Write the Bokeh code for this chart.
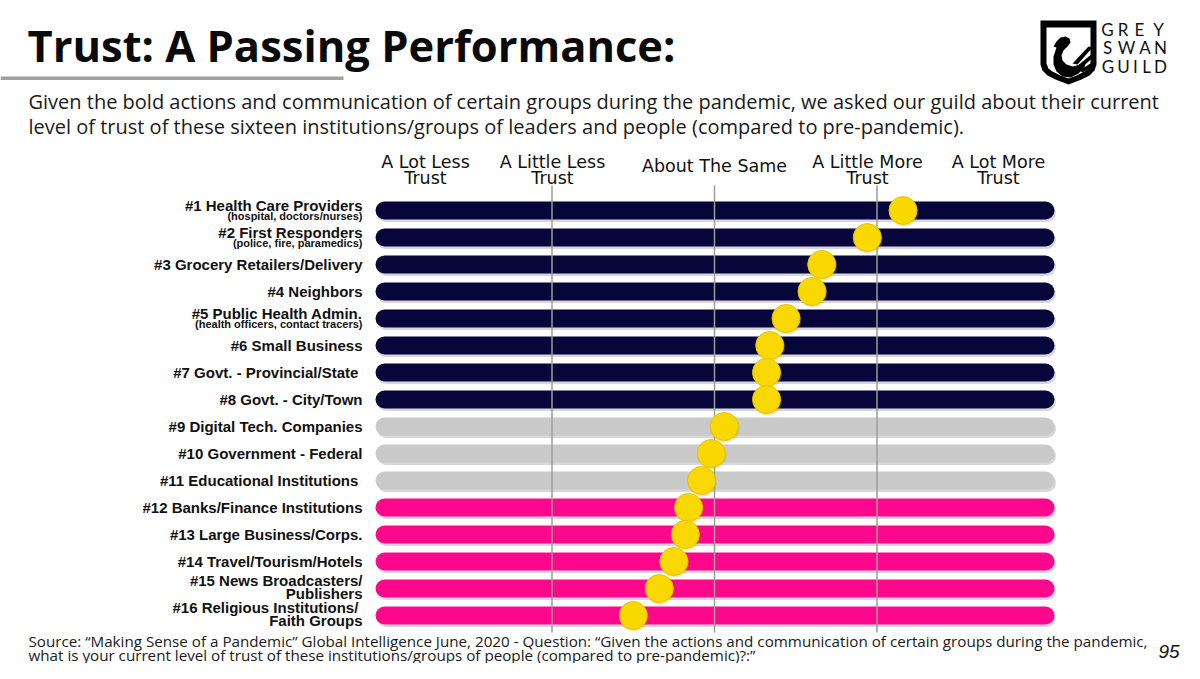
from bokeh.plotting import figure
from bokeh.models import Range1d, Label, BoxAnnotation, PolyAnnotation, ColumnDataSource
from bokeh.transform import dodge
from bokeh.core.properties import value
from bokeh.embed import file_html
from bokeh.resources import INLINE

# ---------------- data ----------------
RANKS = list(range(1, 17))
LABELS = [
    "#1 Health Care Providers",
    "#2 First Responders",
    "#3 Grocery Retailers/Delivery",
    "#4 Neighbors",
    "#5 Public Health Admin.",
    "#6 Small Business",
    "#7 Govt. -  Provincial/State",
    "#8 Govt. - City/Town",
    "#9 Digital Tech. Companies",
    "#10 Government - Federal",
    "#11  Educational Institutions",
    "#12 Banks/Finance Institutions",
    "#13 Large Business/Corps.",
    "#14 Travel/Tourism/Hotels",
    "#15 News Broadcasters/\nPublishers",
    "#16  Religious Institutions/\nFaith Groups",
]
NOTES = [
    "(hospital, doctors/nurses)",
    "(police, fire, paramedics)",
    "", "",
    "(health officers, contact tracers)",
    "", "", "", "", "", "", "", "", "", "", "",
]
GROUPS = ["more"] * 8 + ["same"] * 3 + ["less"] * 5
TRUST = [4.16, 3.94, 3.66, 3.60, 3.44, 3.34, 3.32, 3.32,
         3.06, 2.98, 2.92, 2.84, 2.82, 2.75, 2.66, 2.50]
TICK_VALUES = [1, 2, 3, 4, 5]
TICK_LABELS = ["A Lot Less\nTrust", "A Little Less\nTrust", "About The Same",
               "A Little More\nTrust", "A Lot More\nTrust"]
GRID_VALUES = [2, 3, 4]

TITLE = "Trust: A Passing Performance:"
SUBTITLE = [
    "Given the bold actions and communication of certain groups during the pandemic, we asked our guild about their current",
    "level of trust of these sixteen institutions/groups of leaders and people (compared to pre-pandemic).",
]
SOURCE = [
    "Source: \u201cMaking Sense of a Pandemic\u201d Global Intelligence June, 2020 - Question: \u201cGiven the actions and communication of certain groups during the pandemic,",
    "what is your current level of trust of these institutions/groups of people (compared to pre-pandemic)?:\u201d",
]
PAGE_NO = "95"

# ---------------- styles / layout ----------------
GROUP_COLORS = {"more": "#07053a", "same": "#c9c9c9", "less": "#fd088c"}
YELLOW = "#f9d800"
W, H = 1184, 663
PX_PER_UNIT = 162.5
MID_PX = 714.0
ROW1_PX = 210.0
ROW_STEP = 27.0


def xv(px):
    return 3 + (px - MID_PX) / PX_PER_UNIT


def yr(py):
    return 1 + (py - ROW1_PX) / ROW_STEP


p = figure(width=W, height=H,
           x_range=Range1d(xv(0), xv(W)),
           y_range=Range1d(yr(H), yr(0)),
           x_axis_type=None, y_axis_type=None,
           output_backend="svg", toolbar_location=None,
           min_border=0, outline_line_color=None)
p.grid.visible = False
p.background_fill_color = "white"
p.border_fill_color = "white"

src = ColumnDataSource(dict(rank=RANKS, trust=TRUST,
                            color=[GROUP_COLORS[g] for g in GROUPS]))

BAR_W = 18
bx0, bx1 = xv(375 + BAR_W / 2), xv(1054 - BAR_W / 2)

# shadow
p.segment(x0=bx0 + 1.5 / PX_PER_UNIT, x1=bx1 + 1.5 / PX_PER_UNIT,
          y0=dodge("rank", 2.5 / ROW_STEP), y1=dodge("rank", 2.5 / ROW_STEP),
          line_color="#8a8a9a", line_alpha=0.35, line_width=BAR_W,
          line_cap="round", source=src)
# bars
p.segment(x0=bx0, x1=bx1, y0="rank", y1="rank", line_color="color",
          line_width=BAR_W, line_cap="round", source=src)

# vertical reference lines
p.segment(x0=GRID_VALUES, x1=GRID_VALUES, y0=[yr(185)] * len(GRID_VALUES),
          y1=[yr(632)] * len(GRID_VALUES), line_color="#9c9c9c", line_width=1.5)

# dots
p.scatter(x=dodge("trust", 0.8 / PX_PER_UNIT), y=dodge("rank", 1.5 / ROW_STEP),
          size=29, fill_color="#b8a000", fill_alpha=0.25, line_color=None, source=src)
p.scatter(x="trust", y="rank", size=28, fill_color=YELLOW, line_color="#e6c300",
          line_width=1, source=src)

# row labels
main_rank, main_text, main_off = [], [], []
note_rank, note_text, note_off = [], [], []
for r, lab, note in zip(RANKS, LABELS, NOTES):
    parts = lab.split("\n")
    if len(parts) == 2:
        main_rank += [r, r]; main_text += parts; main_off += [-8.5, 4.5]
    elif note:
        main_rank.append(r); main_text.append(parts[0]); main_off.append(-5.5)
        note_rank.append(r); note_text.append(note); note_off.append(5.5)
    else:
        main_rank.append(r); main_text.append(parts[0]); main_off.append(-0.5)

LX = xv(362)
p.text(x=LX, y="rank", text="text", y_offset="off",
       source=ColumnDataSource(dict(rank=main_rank, text=main_text, off=main_off)),
       text_align="right", text_baseline="middle",
       text_font=value("Liberation Sans"), text_font_style="bold",
       text_font_size="15px", text_color="#111111")
p.text(x=LX, y="rank", text="text", y_offset="off",
       source=ColumnDataSource(dict(rank=note_rank, text=note_text, off=note_off)),
       text_align="right", text_baseline="middle",
       text_font=value("Liberation Sans"), text_font_style="bold",
       text_font_size="11px", text_color="#111111")

# column headers
HEADER_X_PX = [425, 552, 714, 867, 998]
for hx, lab in zip(HEADER_X_PX, TICK_LABELS):
    parts = lab.split("\n")
    ys = [161, 177] if len(parts) == 2 else [165]
    for t, py in zip(parts, ys):
        p.add_layout(Label(x=xv(hx), y=yr(py), text=t, text_align="center",
                           text_baseline="middle", text_font="DejaVu Sans",
                           text_font_size="17.5px", text_color="#111111"))

# title, rule, subtitle
p.add_layout(Label(x=xv(27), y=yr(45), text=TITLE, text_align="left",
                   text_baseline="middle", text_font="Open Sans",
                   text_font_style="bold", text_font_size="43.5px", text_color="#0a0a0a"))
p.add_layout(BoxAnnotation(left=xv(0), right=xv(343), top=yr(76), bottom=yr(79.5),
                           fill_color="#a0a0a0", fill_alpha=1, line_color=None))
for t, py in zip(SUBTITLE, [101, 125.5]):
    p.add_layout(Label(x=xv(28), y=yr(py), text=t, text_align="left",
                       text_baseline="middle", text_font="Open Sans",
                       text_font_size="20px", text_color="#1a1a1a"))

# footer
for t, py in zip(SOURCE, [640, 654]):
    p.add_layout(Label(x=xv(28), y=yr(py), text=t, text_align="left",
                       text_baseline="middle", text_font="Open Sans",
                       text_font_size="15.2px", text_color="#1a1a1a"))
p.add_layout(Label(x=xv(1158), y=yr(651), text=PAGE_NO, text_align="left",
                   text_baseline="middle", text_font="Liberation Sans",
                   text_font_style="italic", text_font_size="19px", text_color="#111111"))

# logo
def poly(pts, color):
    p.add_layout(PolyAnnotation(xs=[xv(a) for a, b in pts], ys=[yr(b) for a, b in pts],
                                fill_color=color, fill_alpha=1, line_color=None))

poly([(1040, 20), (1096, 20), (1096, 64), (1094, 70), (1089, 75), (1081, 79), (1068, 84),
      (1055, 79), (1047, 75), (1042, 70), (1040, 64)], "black")
poly([(1046, 27), (1090, 27), (1090, 63), (1088, 68), (1084, 71), (1076, 75), (1068, 78),
      (1060, 75), (1052, 71), (1048, 68), (1046, 63)], "white")
poly([(1053, 46), (1056, 41), (1060, 37), (1065, 36), (1069, 38), (1070, 42), (1067, 46),
      (1063, 50), (1061, 55), (1062, 60), (1066, 64), (1072, 66), (1080, 64), (1086, 60),
      (1084, 67), (1078, 73), (1070, 77), (1062, 76), (1056, 71), (1053, 64), (1053, 56),
      (1055, 50), (1056, 47)], "black")
poly([(1072, 63), (1088, 46), (1092, 47), (1077, 64)], "black")
poly([(1076, 66), (1092, 53), (1095, 55), (1080, 68)], "black")
poly([(1079, 70), (1093, 61), (1095, 64), (1082, 72)], "black")

LOGO_LETTERS = [
    ("GREY", [1107, 1122.5, 1139, 1158], 29),
    ("SWAN", [1107, 1126, 1144.5, 1160], 47),
    ("GUILD", [1107.5, 1123, 1135, 1146, 1160], 66),
]
for word, xs, py in LOGO_LETTERS:
    for ch, px in zip(word, xs):
        p.add_layout(Label(x=xv(px), y=yr(py), text=ch, text_align="center",
                           text_baseline="middle", text_font="Lato",
                           text_font_size="17px", text_color="#111111"))

open("out.html", "w").write(file_html(p, INLINE))
